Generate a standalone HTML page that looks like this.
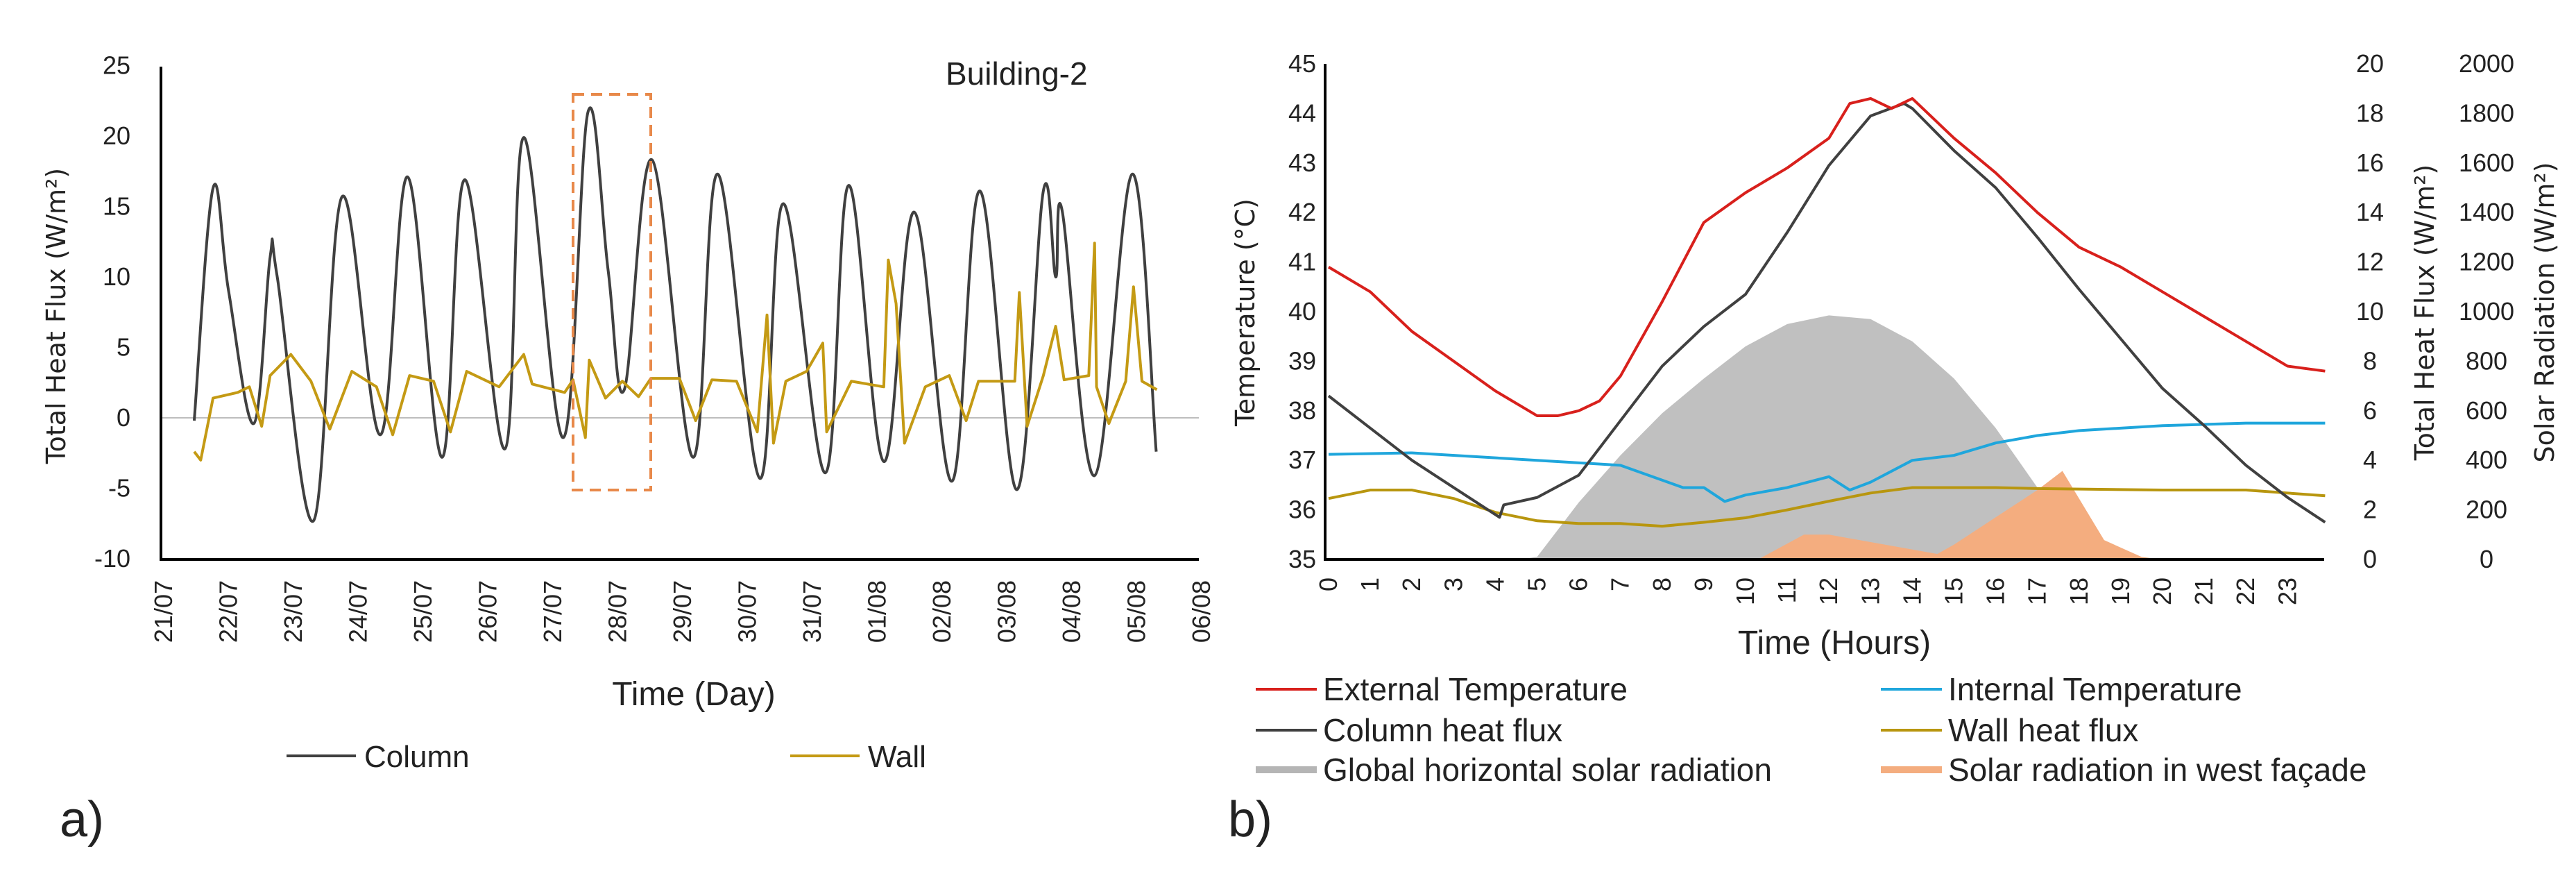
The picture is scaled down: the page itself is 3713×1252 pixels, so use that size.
<!DOCTYPE html>
<html><head><meta charset="utf-8"><style>
html,body{margin:0;padding:0;background:#fff;}
svg{display:block;}
text{font-family:"Liberation Sans Narrow","Liberation Sans",sans-serif;fill:#222;}
.tt{font-family:"DejaVu Sans","Liberation Sans",sans-serif;}
</style></head><body>
<svg id="chart" width="3713" height="1252" viewBox="0 0 3713 1252" xmlns="http://www.w3.org/2000/svg">
<g id="ga"></g>
<g id="gb"></g>
</svg>
<script>
// ---- Chart a data ----
const dateLabels=["21/07","22/07","23/07","24/07","25/07","26/07","27/07","28/07","29/07","30/07","31/07","01/08","02/08","03/08","04/08","05/08","06/08"];
const aTicks=[25,20,15,10,5,0,-5,-10];
const colDays=[0.47,0.76,1.0,1.39,1.64,1.75,2.31,2.75,3.34,3.76,4.29,4.64,5.26,5.55,6.16,6.54,6.85,7.1,7.53,8.16,8.54,9.19,9.55,10.2,10.56,11.1,11.57,12.15,12.58,13.15,13.56,13.75,13.85,14.35,14.93,15.3];
const colVals=[-0.2,16.3,9.0,-0.4,11.4,10.0,-7.3,15.7,-1.2,17.1,-2.8,16.9,-2.2,19.9,-1.4,21.7,10.5,2.0,18.3,-2.8,17.3,-4.3,15.2,-3.9,16.5,-3.1,14.6,-4.5,16.1,-5.1,16.1,10,14.7,-4.1,17.3,-2.4];
const wallDays=[0.47,0.57,0.76,1.14,1.32,1.51,1.64,1.96,2.27,2.56,2.90,3.28,3.53,3.79,4.16,4.42,4.67,5.17,5.55,5.68,6.18,6.31,6.50,6.56,6.81,7.07,7.32,7.51,7.95,8.20,8.45,8.83,9.15,9.30,9.40,9.59,9.91,10.16,10.22,10.60,11.10,11.17,11.29,11.42,11.74,12.11,12.37,12.56,13.12,13.19,13.31,13.56,13.75,13.88,14.26,14.35,14.38,14.57,14.83,14.95,15.08,15.31];
const wallVals=[-2.4,-3.0,1.4,1.8,2.2,-0.6,3.0,4.5,2.6,-0.8,3.3,2.2,-1.2,3.0,2.6,-1.0,3.3,2.2,4.5,2.4,1.8,2.7,-1.4,4.1,1.4,2.6,1.5,2.8,2.8,-0.2,2.7,2.6,-1.0,7.3,-1.8,2.6,3.3,5.3,-1.0,2.6,2.2,11.2,8.1,-1.8,2.2,3.0,-0.2,2.6,2.6,8.9,-0.6,3.0,6.5,2.7,3.0,12.4,2.2,-0.4,2.6,9.3,2.6,2.0];
// ---- Chart b data ----
const hourLabels=["0","1","2","3","4","5","6","7","8","9","10","11","12","13","14","15","16","17","18","19","20","21","22","23"];
const tempTicks=[45,44,43,42,41,40,39,38,37,36,35];
const fluxTicks=[20,18,16,14,12,10,8,6,4,2,0];
const solTicks=[2000,1800,1600,1400,1200,1000,800,600,400,200,0];
const extH=[0,1,2,3,4,5,5.5,6,6.5,7,8,9,10,11,12,12.5,13,13.5,14,15,16,17,18,19,20,21,22,23,23.9];
const extT=[40.9,40.4,39.6,39.0,38.4,37.9,37.9,38.0,38.2,38.7,40.2,41.8,42.4,42.9,43.5,44.2,44.3,44.1,44.3,43.5,42.8,42.0,41.3,40.9,40.4,39.9,39.4,38.9,38.8];
const intH=[0,2,5,7,8,8.5,9,9.5,10,11,12,12.5,13,14,15,16,17,18,20,22,23.9];
const intT=[37.12,37.15,37.0,36.9,36.6,36.45,36.45,36.17,36.3,36.45,36.67,36.4,36.56,37.0,37.1,37.35,37.5,37.6,37.7,37.75,37.75];
const colH=[0,1,2,3,4.1,4.2,5,6,7,8,9,10,11,12,13,13.8,14,15,16,17,18,19,20,21,22,23,23.9];
const colF=[6.6,5.3,4.0,2.9,1.7,2.2,2.5,3.4,5.6,7.8,9.4,10.7,13.2,15.9,17.9,18.4,18.2,16.5,15.0,13.0,10.9,8.9,6.9,5.4,3.8,2.5,1.5];
const wallH=[0,1,2,3,4,5,6,7,8,9,10,11,12,13,14,15,16,17,18,20,22,23.9];
const wallF=[2.46,2.8,2.8,2.46,1.9,1.56,1.45,1.45,1.34,1.5,1.68,2.0,2.35,2.68,2.9,2.9,2.9,2.86,2.84,2.8,2.8,2.57];
const ghH=[4.5,5,6,7,8,9,10,11,12,13,14,15,16,17,18,19];
const ghS=[0,10,230,420,590,730,860,950,985,970,880,730,530,290,40,0];
const wfH=[10.3,11.4,12,13,14.6,15,16,17,17.6,18.6,19.5,20];
const wfS=[0,100,100,70,22,60,170,280,357,78,10,0];

const NS="http://www.w3.org/2000/svg";
function mk(p,tag,at,txt){const e=document.createElementNS(NS,tag);for(const k in at)e.setAttribute(k,at[k]);if(txt!==undefined)e.textContent=txt;p.appendChild(e);return e;}
function smoothPath(P){let d='M'+P[0][0]+','+P[0][1];
for(let i=0;i<P.length-1;i++){const p0=P[Math.max(0,i-1)],p1=P[i],p2=P[i+1],p3=P[Math.min(P.length-1,i+2)];
const t=0.18;const c1=[p1[0]+(p2[0]-p0[0])*t,p1[1]+(p2[1]-p0[1])*t],c2=[p2[0]-(p3[0]-p1[0])*t,p2[1]-(p3[1]-p1[1])*t];
d+=` C${c1[0]},${c1[1]} ${c2[0]},${c2[1]} ${p2[0]},${p2[1]}`;}return d;}
const ga=document.getElementById('ga'), gb=document.getElementById('gb');

// ---- Chart a ----
const aX=d=>236+d*93.5, aY=v=>602-v*20.3;
let e;
e=mk(ga,'line',{x1:232,x2:1728,y1:aY(0),y2:aY(0),stroke:'#bdbdbd','stroke-width':2});

aTicks.forEach(t=>{e=mk(ga,'text',{x:188,y:aY(t)+12,'font-size':36,'text-anchor':'end'},String(t));
});
dateLabels.forEach((l,i)=>{e=mk(ga,'text',{transform:`translate(${aX(i)+12},${836}) rotate(-90)`,'font-size':36,'text-anchor':'end'},l);
});
e=mk(ga,'path',{d:smoothPath(colDays.map((d,i)=>[aX(d),aY(colVals[i])])),fill:'none',stroke:'#404040','stroke-width':4,'stroke-linejoin':'round'});

e=mk(ga,'polyline',{points:wallDays.map((d,i)=>aX(d)+','+aY(wallVals[i])).join(' '),fill:'none',stroke:'#c49a14','stroke-width':4,'stroke-linejoin':'round'});

e=mk(ga,'path',{d:'M232,96 V806 H1728',fill:'none',stroke:'#000','stroke-width':4});

e=mk(ga,'rect',{x:826,y:136,width:112,height:570,fill:'none',stroke:'#e8894a','stroke-width':4,'stroke-dasharray':'16,10'});

e=mk(ga,'text',{x:1363,y:122,'font-size':46},'Building-2');

e=mk(ga,'text',{class:'tt',transform:'translate(94,455) rotate(-90)','font-size':38,'text-anchor':'middle'},'Total Heat Flux (W/m²)');

e=mk(ga,'text',{x:1000,y:1016,'font-size':48,'text-anchor':'middle'},'Time (Day)');

e=mk(ga,'line',{x1:413,x2:513,y1:1089,y2:1089,stroke:'#404040','stroke-width':4});

e=mk(ga,'text',{x:525,y:1105,'font-size':44},'Column');

e=mk(ga,'line',{x1:1139,x2:1239,y1:1089,y2:1089,stroke:'#c49a14','stroke-width':4});

e=mk(ga,'text',{x:1251,y:1105,'font-size':44},'Wall');

e=mk(ga,'text',{x:86,y:1205,'font-size':72},'a)');


// ---- Chart b ----
const bX=h=>1915+h*60.1, tY=t=>806-(t-35)*71.4, fY=f=>806-f*35.7, sY=s=>806-s*0.357;
function area(H,S,name,color){const pts=H.map((h,i)=>bX(h)+','+sY(S[i]));
e=mk(gb,'polygon',{points:bX(H[0])+','+sY(0)+' '+pts.join(' ')+' '+bX(H[H.length-1])+','+sY(0),fill:color});
}
area(ghH,ghS,'global-solar-area','#c0c0c0');
area(wfH,wfS,'west-facade-solar-area','#f4ad7f');
function line(H,V,yf,name,color){e=mk(gb,'polyline',{points:H.map((h,i)=>bX(h)+','+yf(V[i])).join(' '),fill:'none',stroke:color,'stroke-width':4,'stroke-linejoin':'round'});
}
line(intH,intT,tY,'internal-temp-line','#1fa6dc');
line(wallH,wallF,fY,'wall-flux-line','#b8960f');
line(colH,colF,fY,'column-flux-line','#404040');
line(extH,extT,tY,'external-temp-line','#d8201c');
e=mk(gb,'path',{d:'M1910,92 V806 H3350',fill:'none',stroke:'#000','stroke-width':4});

tempTicks.forEach(t=>{e=mk(gb,'text',{x:1897,y:tY(t)+12,'font-size':36,'text-anchor':'end'},String(t));
});
fluxTicks.forEach(t=>{e=mk(gb,'text',{x:3416,y:fY(t)+12,'font-size':36,'text-anchor':'middle'},String(t));
});
solTicks.forEach(t=>{e=mk(gb,'text',{x:3584,y:sY(t)+12,'font-size':36,'text-anchor':'middle'},String(t));
});
hourLabels.forEach((l,i)=>{e=mk(gb,'text',{transform:`translate(${bX(i)+12},832) rotate(-90)`,'font-size':36,'text-anchor':'end'},l);
});
e=mk(gb,'text',{class:'tt',transform:'translate(1808,450) rotate(-90)','font-size':38,'text-anchor':'middle'},'Temperature (°C)');

e=mk(gb,'text',{class:'tt',transform:'translate(3508,450) rotate(-90)','font-size':38,'text-anchor':'middle'},'Total Heat Flux (W/m²)');

e=mk(gb,'text',{class:'tt',transform:'translate(3681,450) rotate(-90)','font-size':38,'text-anchor':'middle'},'Solar Radiation (W/m²)');

e=mk(gb,'text',{x:2644,y:942,'font-size':48,'text-anchor':'middle'},'Time (Hours)');

const legs=[[1810,993,'#d8201c',4,'External Temperature','legend-external-temp'],[2711,993,'#1fa6dc',4,'Internal Temperature','legend-internal-temp'],
[1810,1052,'#404040',4,'Column heat flux','legend-column-flux'],[2711,1052,'#b8960f',4,'Wall heat flux','legend-wall-flux'],
[1810,1109,'#b5b5b5',10,'Global horizontal solar radiation','legend-global-solar'],[2711,1109,'#f4ad7f',10,'Solar radiation in west façade','legend-west-solar']];
legs.forEach(L=>{e=mk(gb,'line',{x1:L[0],x2:L[0]+88,y1:L[1],y2:L[1],stroke:L[2],'stroke-width':L[3]});

e=mk(gb,'text',{x:L[0]+97,y:L[1]+16,'font-size':46},L[4]);
});
e=mk(gb,'text',{x:1770,y:1205,'font-size':72},'b)');

</script>
</body></html>
